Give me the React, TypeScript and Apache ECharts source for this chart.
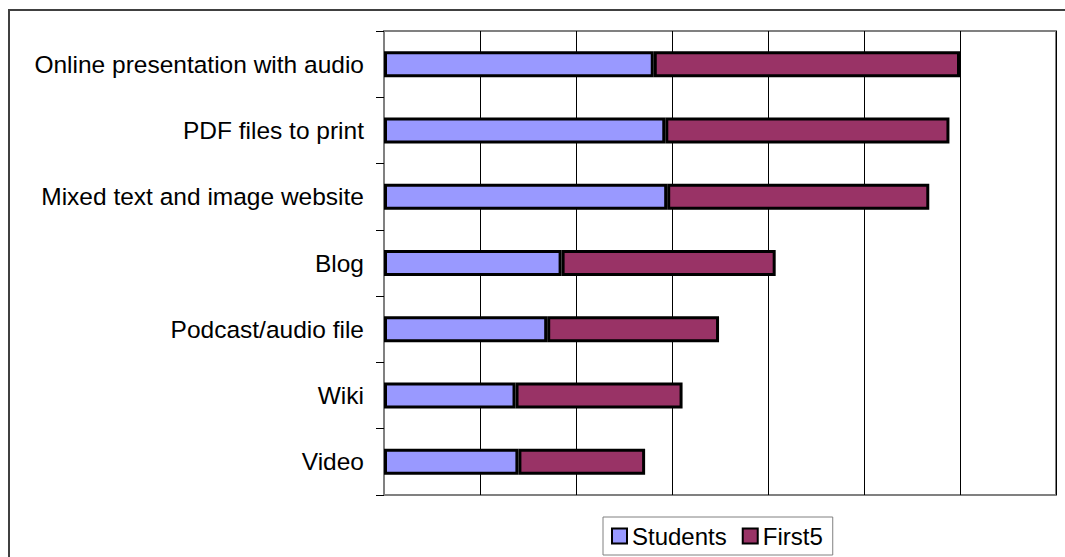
import React, { useEffect, useRef } from "react";
import * as echarts from "echarts";

const categories = [
  "Online presentation with audio",
  "PDF files to print",
  "Mixed text and image website",
  "Blog",
  "Podcast/audio file",
  "Wiki",
  "Video",
];
const studentsValues = [28.1, 29.3, 29.5, 18.5, 17.0, 13.7, 14.0];
const first5Values = [31.9, 29.6, 27.3, 22.3, 17.9, 17.4, 13.2];
const seriesNames = ["Students", "First5"];

const FONT = "Arial, 'Liberation Sans', sans-serif";

export default function App() {
  const ref = useRef<HTMLDivElement>(null);
  useEffect(() => {
    if (!ref.current) return;
    const chart = echarts.init(ref.current, null, { renderer: "svg" });
    chart.setOption({
      animation: false,
      backgroundColor: "#ffffff",
      textStyle: { fontFamily: FONT },
      graphic: [
        {
          type: "rect",
          shape: { x: 9, y: 10, width: 1100, height: 600 },
          style: { fill: "none", stroke: "#404040", lineWidth: 2 },
          silent: true,
          z: -10,
        },
      ],
      grid: {
        left: 384,
        top: 31,
        width: 672,
        height: 464,
        show: true,
        borderColor: "#808080",
        borderWidth: 2,
        containLabel: false,
      },
      legend: {
        left: 603,
        top: 517,
        padding: [7, 10, 7, 8],
        borderColor: "#808080",
        borderWidth: 1,
        itemWidth: 15,
        itemHeight: 15,
        itemGap: 15,
        icon: "rect",
        data: seriesNames,
        itemStyle: { borderColor: "#000", borderWidth: 2 },
        textStyle: { fontFamily: FONT, fontSize: 24, color: "#000" },
      },
      xAxis: {
        type: "value",
        min: 0,
        max: 70,
        interval: 10,
        axisLabel: { show: false },
        axisTick: { show: false },
        axisLine: { show: false },
        splitLine: { show: true, lineStyle: { color: "#000", width: 1 } },
      },
      yAxis: {
        type: "category",
        inverse: true,
        data: categories,
        axisLine: { show: true, lineStyle: { color: "#808080", width: 2 } },
        axisTick: { show: true, length: 8, lineStyle: { color: "#000", width: 1 } },
        axisLabel: { fontFamily: FONT, fontSize: 24.5, color: "#000", margin: 20 },
      },
      series: [
        {
          name: seriesNames[0],
          type: "bar",
          stack: "total",
          data: studentsValues,
          barWidth: 26,
          itemStyle: { color: "#9999FF", borderColor: "#000", borderWidth: 3 },
        },
        {
          name: seriesNames[1],
          type: "bar",
          stack: "total",
          data: first5Values,
          barWidth: 26,
          itemStyle: { color: "#993366", borderColor: "#000", borderWidth: 3 },
        },
      ],
    });
    return () => chart.dispose();
  }, []);
  return (
    <div
      ref={ref}
      style={{ position: "fixed", left: 0, top: 0, width: 1065, height: 557 }}
    />
  );
}
